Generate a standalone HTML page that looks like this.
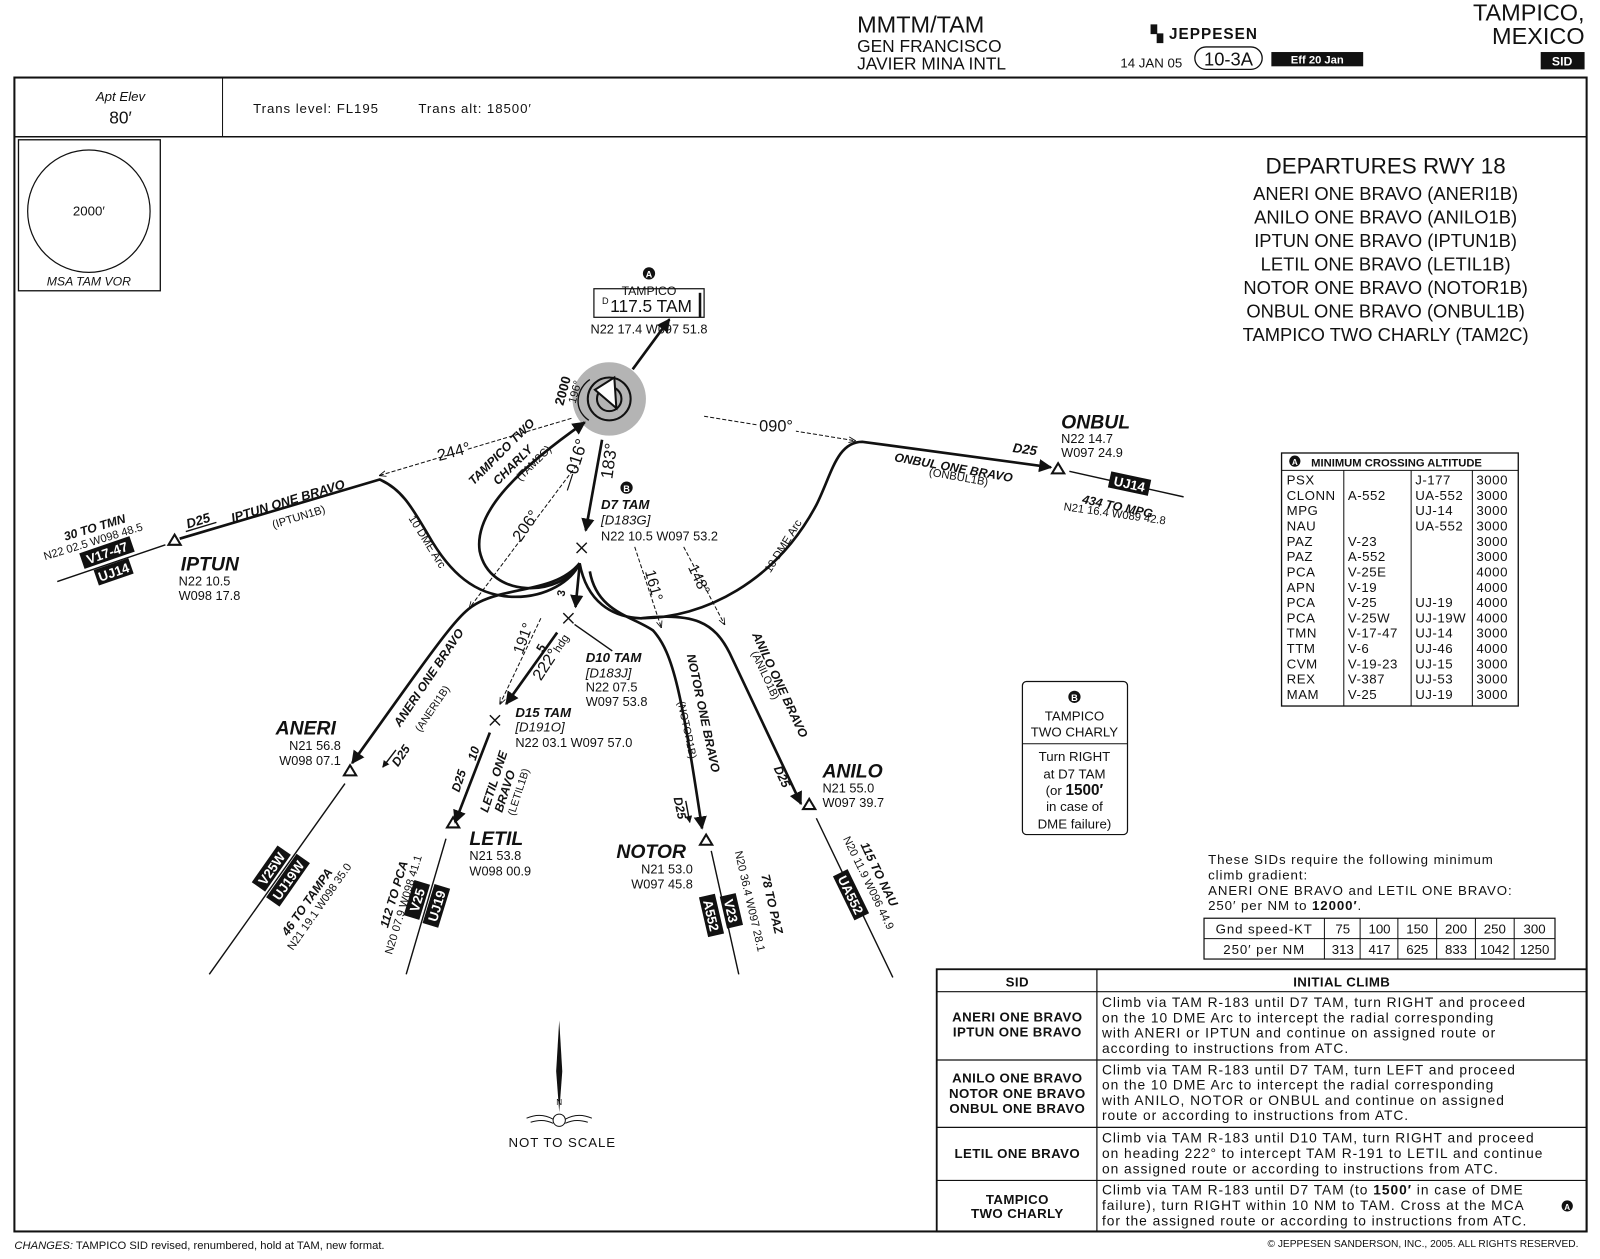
<!DOCTYPE html>
<html><head><meta charset="utf-8">
<style>
html,body{margin:0;padding:0;background:#fff;}
svg{display:block;}
text{font-family:"Liberation Sans Narrow","Liberation Sans",sans-serif;fill:#111;}
.b{font-weight:bold;}
.i{font-style:italic;}
.ln{stroke:#111;stroke-width:2.6;fill:none;}
.th{stroke:#111;stroke-width:1.4;fill:none;}
.dt{stroke:#111;stroke-width:1;fill:none;stroke-dasharray:4 2;}
.bx{fill:#111;}
.w{fill:#fff;font-weight:bold;font-family:"Liberation Sans",sans-serif;}
.sp{letter-spacing:0.9px;}
</style></head><body>
<svg width="1600" height="1259" viewBox="0 0 1568 1234" xmlns="http://www.w3.org/2000/svg">
<defs>
<marker id="ar" viewBox="0 0 10 10" refX="9" refY="5" markerWidth="5" markerHeight="5" orient="auto"><path d="M0,0 L10,5 L0,10 z" fill="#111"/></marker>
<marker id="as" viewBox="0 0 10 10" refX="9" refY="5" markerWidth="7" markerHeight="7" orient="auto"><path d="M0,1 L10,5 L0,9" fill="none" stroke="#111" stroke-width="1.2"/></marker>
</defs>

<!-- HEADER -->
<text x="840" y="32" style="font-size:23px">MMTM/TAM</text>
<text x="840" y="51" style="font-size:17px">GEN FRANCISCO</text>
<text x="840" y="68" style="font-size:17px">JAVIER MINA INTL</text>
<text x="1128" y="38" class="b" style="font-size:15px;letter-spacing:1px">▚ JEPPESEN</text>
<text x="1098" y="66" style="font-size:13px">14 JAN 05</text>
<rect x="1171" y="46" width="66" height="22" rx="11" fill="none" stroke="#111" stroke-width="1.3"/>
<text x="1204" y="64" text-anchor="middle" style="font-size:18px">10-3A</text>
<rect x="1246" y="51" width="90" height="14" class="bx"/>
<text x="1291" y="62" text-anchor="middle" class="w" style="font-size:11px">Eff 20 Jan</text>
<text x="1553" y="20" text-anchor="end" style="font-size:23px">TAMPICO,</text>
<text x="1553" y="43" text-anchor="end" style="font-size:23px">MEXICO</text>
<rect x="1510" y="51" width="43" height="17" class="bx"/>
<text x="1531" y="64" text-anchor="middle" class="w" style="font-size:12px">SID</text>

<!-- FRAME -->
<rect x="14" y="76" width="1541" height="1131" fill="none" stroke="#111" stroke-width="2"/>
<line x1="14" y1="134" x2="1555" y2="134" stroke="#111" stroke-width="1.5"/>
<line x1="218" y1="76" x2="218" y2="134" stroke="#111" stroke-width="1"/>
<text x="118" y="99" text-anchor="middle" class="i" style="font-size:13px">Apt Elev</text>
<text x="118" y="121" text-anchor="middle" style="font-size:17px">80′</text>
<text x="248" y="111" class="sp" style="font-size:13px">Trans level: FL195</text>
<text x="410" y="111" class="sp" style="font-size:13px">Trans alt: 18500′</text>

<!-- MSA -->
<rect x="18" y="137" width="139" height="148" fill="none" stroke="#111" stroke-width="1.3"/>
<circle cx="87" cy="207" r="60" fill="none" stroke="#111" stroke-width="1.2"/>
<text x="87" y="211" text-anchor="middle" style="font-size:13px">2000′</text>
<text x="87" y="280" text-anchor="middle" class="i" style="font-size:12px">MSA TAM VOR</text>

<!-- DEPARTURES -->
<g text-anchor="middle" style="font-size:18px">
<text x="1358" y="170" style="font-size:22px">DEPARTURES RWY 18</text>
<text x="1358" y="196">ANERI ONE BRAVO (ANERI1B)</text>
<text x="1358" y="219">ANILO ONE BRAVO (ANILO1B)</text>
<text x="1358" y="242">IPTUN ONE BRAVO (IPTUN1B)</text>
<text x="1358" y="265">LETIL ONE BRAVO (LETIL1B)</text>
<text x="1358" y="288">NOTOR ONE BRAVO (NOTOR1B)</text>
<text x="1358" y="311">ONBUL ONE BRAVO (ONBUL1B)</text>
<text x="1358" y="334">TAMPICO TWO CHARLY (TAM2C)</text>
</g>

<!-- MCA TABLE -->
<rect x="1256" y="444" width="232" height="248" fill="none" stroke="#111" stroke-width="1.3"/>
<line x1="1256" y1="461" x2="1488" y2="461" stroke="#111"/>
<circle cx="1269" cy="452" r="5.5" fill="#111"/><text x="1269" y="456" text-anchor="middle" class="w" style="font-size:8px">A</text>
<text x="1285" y="457" class="b" style="font-size:11px">MINIMUM CROSSING ALTITUDE</text>
<g stroke="#111" stroke-width="1"><line x1="1317" y1="461" x2="1317" y2="692"/><line x1="1383" y1="461" x2="1383" y2="692"/><line x1="1443" y1="461" x2="1443" y2="692"/></g>
<g style="font-size:13px;letter-spacing:0.5px">
<text x="1261" y="475">PSX</text><text x="1387" y="475">J-177</text><text x="1447" y="475">3000</text>
<text x="1261" y="490">CLONN</text><text x="1321" y="490">A-552</text><text x="1387" y="490">UA-552</text><text x="1447" y="490">3000</text>
<text x="1261" y="505">MPG</text><text x="1387" y="505">UJ-14</text><text x="1447" y="505">3000</text>
<text x="1261" y="520">NAU</text><text x="1387" y="520">UA-552</text><text x="1447" y="520">3000</text>
<text x="1261" y="535">PAZ</text><text x="1321" y="535">V-23</text><text x="1447" y="535">3000</text>
<text x="1261" y="550">PAZ</text><text x="1321" y="550">A-552</text><text x="1447" y="550">3000</text>
<text x="1261" y="565">PCA</text><text x="1321" y="565">V-25E</text><text x="1447" y="565">4000</text>
<text x="1261" y="580">APN</text><text x="1321" y="580">V-19</text><text x="1447" y="580">4000</text>
<text x="1261" y="595">PCA</text><text x="1321" y="595">V-25</text><text x="1387" y="595">UJ-19</text><text x="1447" y="595">4000</text>
<text x="1261" y="610">PCA</text><text x="1321" y="610">V-25W</text><text x="1387" y="610">UJ-19W</text><text x="1447" y="610">4000</text>
<text x="1261" y="625">TMN</text><text x="1321" y="625">V-17-47</text><text x="1387" y="625">UJ-14</text><text x="1447" y="625">3000</text>
<text x="1261" y="640">TTM</text><text x="1321" y="640">V-6</text><text x="1387" y="640">UJ-46</text><text x="1447" y="640">4000</text>
<text x="1261" y="655">CVM</text><text x="1321" y="655">V-19-23</text><text x="1387" y="655">UJ-15</text><text x="1447" y="655">3000</text>
<text x="1261" y="670">REX</text><text x="1321" y="670">V-387</text><text x="1387" y="670">UJ-53</text><text x="1447" y="670">3000</text>
<text x="1261" y="685">MAM</text><text x="1321" y="685">V-25</text><text x="1387" y="685">UJ-19</text><text x="1447" y="685">3000</text>
</g>

<!-- B BOX -->
<rect x="1002" y="668" width="103" height="150" rx="4" fill="none" stroke="#111" stroke-width="1.2"/>
<line x1="1002" y1="729" x2="1105" y2="729" stroke="#111"/>
<circle cx="1053" cy="683" r="6" fill="#111"/><text x="1053" y="687" text-anchor="middle" class="w" style="font-size:9px">B</text>
<g text-anchor="middle" style="font-size:13px">
<text x="1053" y="706">TAMPICO</text><text x="1053" y="722">TWO CHARLY</text>
<text x="1053" y="746">Turn RIGHT</text><text x="1053" y="763">at D7 TAM</text>
<text x="1053" y="779">(or <tspan class="b" style="font-size:15px">1500′</tspan></text>
<text x="1053" y="795">in case of</text><text x="1053" y="812">DME failure)</text>
</g>

<!-- CLIMB GRADIENT -->
<g style="font-size:13px;letter-spacing:0.9px">
<text x="1184" y="847">These SIDs require the following minimum</text>
<text x="1184" y="862">climb gradient:</text>
<text x="1184" y="877">ANERI ONE BRAVO and LETIL ONE BRAVO:</text>
<text x="1184" y="892">250′ per NM to <tspan class="b">12000′</tspan>.</text>
</g>
<rect x="1180" y="900" width="344" height="40" fill="none" stroke="#111" stroke-width="1.2"/>
<line x1="1180" y1="920" x2="1524" y2="920" stroke="#111"/>
<g stroke="#111"><line x1="1298" y1="900" x2="1298" y2="940"/><line x1="1333" y1="900" x2="1333" y2="940"/><line x1="1370" y1="900" x2="1370" y2="940"/><line x1="1408" y1="900" x2="1408" y2="940"/><line x1="1446" y1="900" x2="1446" y2="940"/><line x1="1484" y1="900" x2="1484" y2="940"/></g>
<g text-anchor="middle" style="font-size:13px">
<text x="1239" y="915" class="sp">Gnd speed-KT</text><text x="1316" y="915">75</text><text x="1352" y="915">100</text><text x="1389" y="915">150</text><text x="1427" y="915">200</text><text x="1465" y="915">250</text><text x="1504" y="915">300</text>
<text x="1239" y="935" class="sp">250′ per NM</text><text x="1316" y="935">313</text><text x="1352" y="935">417</text><text x="1389" y="935">625</text><text x="1427" y="935">833</text><text x="1465" y="935">1042</text><text x="1504" y="935">1250</text>
</g>

<!-- SID TABLE -->
<rect x="918" y="950" width="637" height="257" fill="none" stroke="#111" stroke-width="1.8"/>
<g stroke="#111" stroke-width="1.2"><line x1="1075" y1="950" x2="1075" y2="1207"/><line x1="918" y1="972" x2="1555" y2="972"/><line x1="918" y1="1039" x2="1555" y2="1039"/><line x1="918" y1="1105" x2="1555" y2="1105"/><line x1="918" y1="1157" x2="1555" y2="1157"/></g>
<g text-anchor="middle" class="b" style="font-size:13px;letter-spacing:0.4px">
<text x="997" y="967">SID</text><text x="1315" y="967">INITIAL CLIMB</text>
<text x="997" y="1001">ANERI ONE BRAVO</text><text x="997" y="1016">IPTUN ONE BRAVO</text>
<text x="997" y="1061">ANILO ONE BRAVO</text><text x="997" y="1076">NOTOR ONE BRAVO</text><text x="997" y="1091">ONBUL ONE BRAVO</text>
<text x="997" y="1135">LETIL ONE BRAVO</text>
<text x="997" y="1180">TAMPICO</text><text x="997" y="1194">TWO CHARLY</text>
</g>
<g style="font-size:13.5px;letter-spacing:0.95px">
<text x="1080" y="987">Climb via TAM R-183 until D7 TAM, turn RIGHT and proceed</text>
<text x="1080" y="1002">on the 10 DME Arc to intercept the radial corresponding</text>
<text x="1080" y="1017">with ANERI or IPTUN and continue on assigned route or</text>
<text x="1080" y="1032">according to instructions from ATC.</text>
<text x="1080" y="1053">Climb via TAM R-183 until D7 TAM, turn LEFT and proceed</text>
<text x="1080" y="1068">on the 10 DME Arc to intercept the radial corresponding</text>
<text x="1080" y="1083">with ANILO, NOTOR or ONBUL and continue on assigned</text>
<text x="1080" y="1098">route or according to instructions from ATC.</text>
<text x="1080" y="1120">Climb via TAM R-183 until D10 TAM, turn RIGHT and proceed</text>
<text x="1080" y="1135">on heading 222° to intercept TAM R-191 to LETIL and continue</text>
<text x="1080" y="1150">on assigned route or according to instructions from ATC.</text>
<text x="1080" y="1171">Climb via TAM R-183 until D7 TAM (to <tspan class="b">1500′</tspan> in case of DME</text>
<text x="1080" y="1186">failure), turn RIGHT within 10 NM to TAM. Cross at the MCA</text>
<text x="1080" y="1201">for the assigned route or according to instructions from ATC.</text>
</g>
<circle cx="1536" cy="1182" r="5.5" fill="#111"/><text x="1536" y="1186" text-anchor="middle" class="w" style="font-size:8px">A</text>

<!-- FOOTER -->
<text x="14" y="1224" style="font-size:11px"><tspan class="i">CHANGES:</tspan> TAMPICO SID revised, renumbered, hold at TAM, new format.</text>
<text x="1547" y="1222" text-anchor="end" style="font-size:10px">© JEPPESEN SANDERSON, INC., 2005. ALL RIGHTS RESERVED.</text>

<!-- MAP: VOR -->
<circle cx="597" cy="391" r="36" fill="#b4b4b4"/>
<circle cx="597" cy="391" r="21" fill="none" stroke="#111" stroke-width="2"/>
<circle cx="597" cy="391" r="12" fill="none" stroke="#111" stroke-width="2"/>
<path d="M583,382 L602,370 L604,400 z" fill="#fff" stroke="#111" stroke-width="2"/>
<line x1="620" y1="362" x2="656" y2="313" class="ln" marker-end="url(#ar)"/>
<rect x="582" y="283" width="108" height="28" fill="#fff" stroke="#111" stroke-width="1.2"/>
<line x1="686" y1="287" x2="686" y2="311" stroke="#111" stroke-width="2.5"/>
<text x="636" y="289" text-anchor="middle" style="font-size:12px">TAMPICO</text>
<text x="590" y="298" style="font-size:9px">D</text>
<text x="638" y="306" text-anchor="middle" style="font-size:17px">117.5 TAM</text>
<text x="636" y="327" text-anchor="middle" style="font-size:12.5px">N22 17.4 W097 51.8</text>
<circle cx="636" cy="268" r="6" fill="#111"/><text x="636" y="272" text-anchor="middle" class="w" style="font-size:9px">A</text>
<!-- hold -->
<path d="M577,412 C560,400 566,380 578,372" class="th"/>
<text transform="translate(552,398) rotate(-75)" class="b" style="font-size:13px">2000</text>
<text transform="translate(564,396) rotate(-75)" style="font-size:11px">196°</text>

<!-- 183 track -->
<line x1="590" y1="431" x2="574" y2="520" class="ln" marker-end="url(#ar)"/>
<path d="M570,537 l-5,-5 m5,5 l5,5 m-5,-5 l5,-5 m-5,5 l-5,5" class="th"/>
<text transform="translate(600,470) rotate(-82)" style="font-size:17px">183°</text>
<text transform="translate(560,482) rotate(-72)" style="font-size:17px">—016°</text>
<circle cx="614" cy="478" r="6" fill="#111"/><text x="614" y="482" text-anchor="middle" class="w" style="font-size:9px">B</text>
<text x="589" y="499" class="b i" style="font-size:13px">D7 TAM</text>
<text x="589" y="514" class="i" style="font-size:13px">[D183G]</text>
<text x="589" y="530" style="font-size:12.5px">N22 10.5 W097 53.2</text>

<!-- central curves -->
<path d="M568,552 C560,570 535,585 505,585 C465,585 440,560 420,525 C405,500 395,480 372,470 L176,528" class="ln"/>
<path d="M568,552 C550,585 480,588 470,540 C465,505 500,465 573,414" class="ln" marker-end="url(#ar)"/>
<path d="M568,552 C545,580 500,575 470,590 C450,600 440,615 345,748" class="ln" marker-end="url(#ar)"/>
<path d="M568,552 C575,590 600,605 628,606 C690,606 760,570 800,495 C815,465 820,433 845,433 L1030,458" class="ln" marker-end="url(#ar)"/>
<path d="M578,560 C585,600 620,604 640,618 C660,640 668,680 688,812" class="ln" marker-end="url(#ar)"/>
<path d="M628,606 C680,600 700,610 715,640 L785,788" class="ln" marker-end="url(#ar)"/>
<line x1="568" y1="554" x2="564" y2="595" class="ln" marker-end="url(#ar)"/>
<text transform="translate(553,585) rotate(-80)" class="b" style="font-size:11px">3</text>
<path d="M557,606 l-5,-5 m5,5 l5,5 m-5,-5 l5,-5 m-5,5 l-5,5" class="th"/>
<line x1="563" y1="612" x2="600" y2="638" class="th"/>
<line x1="546" y1="620" x2="496" y2="690" class="ln" marker-end="url(#ar)"/>
<path d="M485,706 l-5,-5 m5,5 l5,5 m-5,-5 l5,-5 m-5,5 l-5,5" class="th"/>
<line x1="480" y1="718" x2="446" y2="806" class="ln" marker-end="url(#ar)"/>

<!-- dotted radials -->
<line x1="560" y1="410" x2="372" y2="466" class="dt" marker-end="url(#as)"/>
<rect x="428" y="432" width="30" height="14" fill="#fff"/>
<text transform="translate(430,452) rotate(-15)" style="font-size:16px">244°</text>
<line x1="690" y1="408" x2="838" y2="432" class="dt" marker-end="url(#as)"/>
<rect x="742" y="408" width="38" height="16" fill="#fff"/>
<text x="744" y="423" style="font-size:16px">090°</text>
<line x1="565" y1="456" x2="460" y2="596" class="dt" marker-end="url(#as)"/>
<rect x="500" y="500" width="22" height="34" fill="#fff" transform="rotate(-52 511 517)"/>
<text transform="translate(510,532) rotate(-55)" style="font-size:16px">206°</text>
<line x1="622" y1="536" x2="648" y2="615" class="dt" marker-end="url(#as)"/>
<text transform="translate(632,560) rotate(75)" style="font-size:15px">161°</text>
<line x1="670" y1="536" x2="710" y2="612" class="dt" marker-end="url(#as)"/>
<text transform="translate(674,556) rotate(65)" style="font-size:15px">148°</text>
<line x1="530" y1="606" x2="490" y2="690" class="dt" marker-end="url(#as)"/>
<text transform="translate(512,642) rotate(-70)" style="font-size:15px">191°</text>
<text transform="translate(532,640) rotate(-60)" class="b" style="font-size:12px">5</text>
<text transform="translate(530,668) rotate(-57)" style="font-size:16px">222°<tspan style="font-size:11px">hdg</tspan></text>

<!-- arc labels -->
<text transform="translate(400,508) rotate(58)" style="font-size:11px">10 DME Arc</text>
<text transform="translate(755,562) rotate(-58)" style="font-size:11px">10 DME Arc</text>
<text transform="translate(464,476) rotate(-45)" class="b i" style="font-size:12px">TAMPICO TWO</text>
<text transform="translate(488,476) rotate(-45)" class="b i" style="font-size:12px">CHARLY</text>
<text transform="translate(510,472) rotate(-45)" style="font-size:11px">(TAM2C)</text>

<!-- IPTUN -->
<text transform="translate(228,512) rotate(-17)" class="b i" style="font-size:12.5px">IPTUN ONE BRAVO</text>
<text transform="translate(268,518) rotate(-17)" style="font-size:11px">(IPTUN1B)</text>
<text transform="translate(184,518) rotate(-17)" class="b i" style="font-size:13px">D25</text>
<line x1="182" y1="521" x2="212" y2="512" class="th"/>
<path d="M171,524 l-6,10 h12 z" fill="none" stroke="#111" stroke-width="2"/>
<line x1="162" y1="534" x2="56" y2="570" class="th"/>
<g transform="translate(108,551) rotate(-19)"><rect x="-26" y="-18" width="52" height="16" class="bx"/><text x="0" y="-5" text-anchor="middle" class="w" style="font-size:13px">V17-47</text><rect x="-18" y="2" width="36" height="16" class="bx"/><text x="0" y="15" text-anchor="middle" class="w" style="font-size:13px">UJ14</text></g>
<text transform="translate(64,530) rotate(-17)" class="b i" style="font-size:12px">30 TO TMN</text>
<text transform="translate(44,549) rotate(-17)" style="font-size:11px">N22 02.5 W098 48.5</text>
<text x="177" y="559" class="b i" style="font-size:19px">IPTUN</text>
<text x="175" y="574" style="font-size:12.5px">N22 10.5</text>
<text x="175" y="588" style="font-size:12.5px">W098 17.8</text>

<!-- ONBUL -->
<text x="1040" y="420" class="b i" style="font-size:19px">ONBUL</text>
<text x="1040" y="434" style="font-size:12.5px">N22 14.7</text>
<text x="1040" y="448" style="font-size:12.5px">W097 24.9</text>
<text transform="translate(992,443) rotate(8)" class="b i" style="font-size:13px">D25</text>
<text transform="translate(876,452) rotate(10)" class="b i" style="font-size:12px">ONBUL ONE BRAVO</text>
<text transform="translate(910,466) rotate(10)" style="font-size:11px">(ONBUL1B)</text>
<path d="M1037,454 l-6,10 h12 z" fill="none" stroke="#111" stroke-width="2"/>
<line x1="1048" y1="462" x2="1160" y2="487" class="th"/>
<g transform="translate(1107,474) rotate(12)"><rect x="-20" y="-8" width="40" height="16" class="bx"/><text x="0" y="5" text-anchor="middle" class="w" style="font-size:13px">UJ14</text></g>
<text transform="translate(1060,493) rotate(12)" class="b i" style="font-size:12px">434 TO MPG</text>
<text transform="translate(1042,500) rotate(8)" style="font-size:11px">N21 16.4 W089 42.8</text>

<!-- ANERI -->
<text transform="translate(392,713) rotate(-56)" class="b i" style="font-size:12px">ANERI ONE BRAVO</text>
<text transform="translate(412,718) rotate(-56)" style="font-size:10.5px">(ANERI1B)</text>
<line x1="388" y1="735" x2="375" y2="752" class="th" marker-end="url(#ar)"/>
<text transform="translate(390,752) rotate(-56)" class="b i" style="font-size:12px">D25</text>
<text x="270" y="720" class="b i" style="font-size:19px">ANERI</text>
<text x="334" y="735" text-anchor="end" style="font-size:12.5px">N21 56.8</text>
<text x="334" y="750" text-anchor="end" style="font-size:12.5px">W098 07.1</text>
<path d="M343,750 l-6,10 h12 z" fill="none" stroke="#111" stroke-width="2"/>
<line x1="338" y1="768" x2="205" y2="955" class="th"/>
<g transform="translate(274,857) rotate(-55)"><rect x="-22" y="-18" width="44" height="16" class="bx"/><text x="0" y="-5" text-anchor="middle" class="w" style="font-size:13px">V25W</text><rect x="-26" y="2" width="52" height="16" class="bx"/><text x="0" y="15" text-anchor="middle" class="w" style="font-size:13px">UJ19W</text></g>
<text transform="translate(282,918) rotate(-55)" class="b i" style="font-size:12px">46 TO TAMPA</text>
<text transform="translate(287,932) rotate(-55)" style="font-size:11px">N21 19.1 W098 35.0</text>

<!-- LETIL -->
<text x="505" y="703" class="b i" style="font-size:13px">D15 TAM</text>
<text x="505" y="717" class="i" style="font-size:13px">[D191O]</text>
<text x="505" y="732" style="font-size:12.5px">N22 03.1 W097 57.0</text>
<text x="574" y="649" class="b i" style="font-size:13px">D10 TAM</text>
<text x="574" y="664" class="i" style="font-size:13px">[D183J]</text>
<text x="574" y="678" style="font-size:12.5px">N22 07.5</text>
<text x="574" y="692" style="font-size:12.5px">W097 53.8</text>
<text transform="translate(450,777) rotate(-72)" class="b i" style="font-size:12px">D25</text>
<text transform="translate(466,746) rotate(-72)" class="b i" style="font-size:12px">10</text>
<text transform="translate(478,797) rotate(-72)" class="b i" style="font-size:12px">LETIL ONE</text>
<text transform="translate(492,797) rotate(-72)" class="b i" style="font-size:12px">BRAVO</text>
<text transform="translate(504,800) rotate(-72)" style="font-size:10.5px">(LETIL1B)</text>
<path d="M444,801 l-6,10 h12 z" fill="none" stroke="#111" stroke-width="2"/>
<text x="460" y="828" class="b i" style="font-size:19px">LETIL</text>
<text x="460" y="843" style="font-size:12.5px">N21 53.8</text>
<text x="460" y="858" style="font-size:12.5px">W098 00.9</text>
<line x1="437" y1="822" x2="398" y2="955" class="th"/>
<g transform="translate(418,885) rotate(-73)"><rect x="-18" y="-18" width="36" height="16" class="bx"/><text x="0" y="-5" text-anchor="middle" class="w" style="font-size:13px">V25</text><rect x="-20" y="2" width="40" height="16" class="bx"/><text x="0" y="15" text-anchor="middle" class="w" style="font-size:13px">UJ19</text></g>
<text transform="translate(380,910) rotate(-73)" class="b i" style="font-size:12px">112 TO PCA</text>
<text transform="translate(384,936) rotate(-73)" style="font-size:11px">N20 07.9 W098 41.1</text>

<!-- NOTOR -->
<text transform="translate(673,642) rotate(78)" class="b i" style="font-size:12px">NOTOR ONE BRAVO</text>
<text transform="translate(664,688) rotate(78)" style="font-size:10.5px">(NOTOR1B)</text>
<text transform="translate(660,782) rotate(78)" class="b i" style="font-size:12px">D25</text>
<line x1="672" y1="785" x2="676" y2="806" class="th" marker-end="url(#ar)"/>
<path d="M692,818 l-6,10 h12 z" fill="none" stroke="#111" stroke-width="2"/>
<text x="604" y="841" class="b i" style="font-size:19px">NOTOR</text>
<text x="679" y="856" text-anchor="end" style="font-size:12.5px">N21 53.0</text>
<text x="679" y="871" text-anchor="end" style="font-size:12.5px">W097 45.8</text>
<line x1="697" y1="834" x2="724" y2="955" class="th"/>
<g transform="translate(707,895) rotate(77)"><rect x="-16" y="-18" width="32" height="16" class="bx"/><text x="0" y="-5" text-anchor="middle" class="w" style="font-size:13px">V23</text><rect x="-20" y="2" width="40" height="16" class="bx"/><text x="0" y="15" text-anchor="middle" class="w" style="font-size:13px">A552</text></g>
<text transform="translate(746,858) rotate(77)" class="b i" style="font-size:12px">78 TO PAZ</text>
<text transform="translate(720,835) rotate(77)" style="font-size:11px">N20 36.4 W097 28.1</text>

<!-- ANILO -->
<text transform="translate(737,622) rotate(65)" class="b i" style="font-size:12px">ANILO ONE BRAVO</text>
<text transform="translate(736,640) rotate(65)" style="font-size:10.5px">(ANILO1B)</text>
<text transform="translate(758,753) rotate(65)" class="b i" style="font-size:12px">D25</text>
<path d="M793,783 l-6,10 h12 z" fill="none" stroke="#111" stroke-width="2"/>
<text x="806" y="762" class="b i" style="font-size:19px">ANILO</text>
<text x="806" y="777" style="font-size:12.5px">N21 55.0</text>
<text x="806" y="791" style="font-size:12.5px">W097 39.7</text>
<line x1="800" y1="802" x2="875" y2="958" class="th"/>
<g transform="translate(834,877) rotate(64)"><rect x="-24" y="-8" width="48" height="16" class="bx"/><text x="0" y="5" text-anchor="middle" class="w" style="font-size:13px">UA552</text></g>
<text transform="translate(843,828) rotate(64)" class="b i" style="font-size:12px">115 TO NAU</text>
<text transform="translate(826,822) rotate(64)" style="font-size:11px">N20 11.9 W096 44.9</text>

<!-- NORTH ARROW -->
<path d="M548,1000 L551,1050 L548,1090 L545,1050 z" fill="#111"/>
<text x="548" y="1083" text-anchor="middle" style="font-size:8px">N</text>
<circle cx="548" cy="1098" r="6" fill="#fff" stroke="#111"/>
<path d="M516,1096 Q530,1090 542,1097 M580,1096 Q566,1090 554,1097 M520,1100 Q532,1096 542,1101 M576,1100 Q564,1096 554,1101" stroke="#111" fill="none"/>
<text x="551" y="1124" text-anchor="middle" class="sp" style="font-size:13px">NOT TO SCALE</text>
</svg>
</body></html>
